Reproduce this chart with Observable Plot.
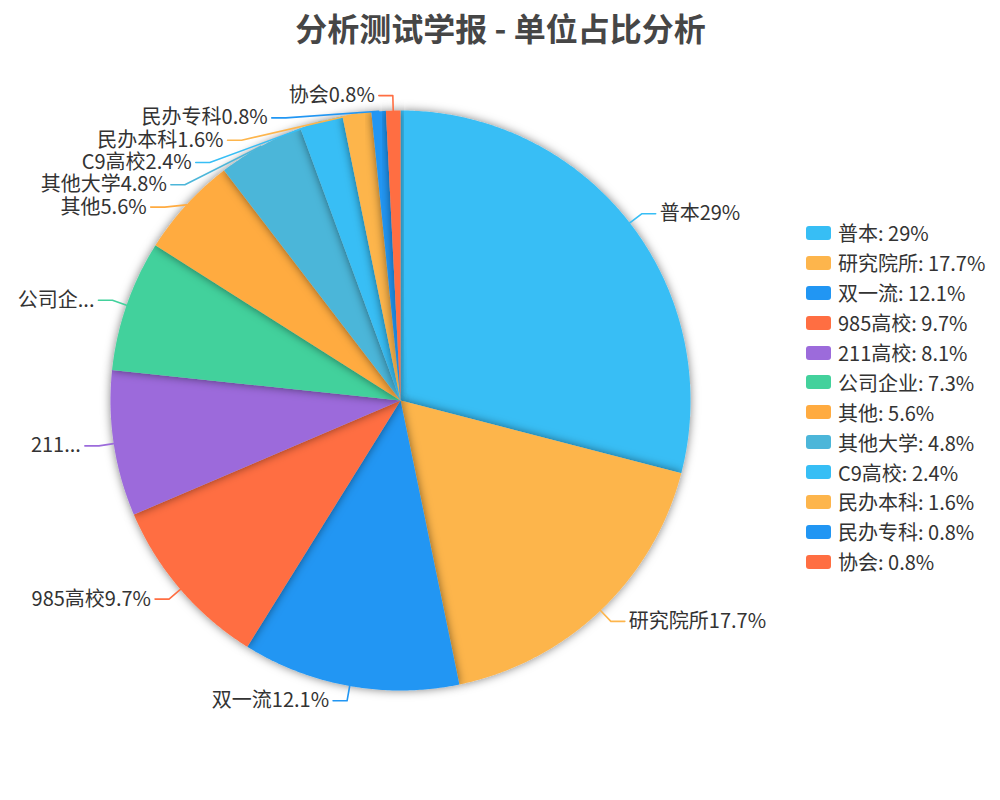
<!DOCTYPE html>
<html><head><meta charset="utf-8">
<script src="https://cdn.jsdelivr.net/npm/d3@7"></script>
<script src="https://cdn.jsdelivr.net/npm/@observablehq/plot@0.6"></script>
<style>
body{margin:0;background:#fff;font-family:"Noto Sans CJK SC","Noto Sans",sans-serif;}
#chart{position:relative;width:1000px;height:800px;}
#legend{position:absolute;left:806px;top:218px;}
.item{display:flex;align-items:center;height:29.9px;font-size:20px;color:#333;white-space:nowrap;}
.sw{width:25px;height:14px;border-radius:3px;margin-right:7px;flex:none;}
</style></head><body><div id="chart"><div id="legend"></div></div>
<script>
const title = "分析测试学报 - 单位占比分析";
const categories = ["普本","研究院所","双一流","985高校","211高校","公司企业","其他","其他大学","C9高校","民办本科","民办专科","协会"];
const percents = [29, 17.7, 12.1, 9.7, 8.1, 7.3, 5.6, 4.8, 2.4, 1.6, 0.8, 0.8];
const sliceLabels = ["普本29%","研究院所17.7%","双一流12.1%","985高校9.7%","211...","公司企...","其他5.6%","其他大学4.8%","C9高校2.4%","民办本科1.6%","民办专科0.8%","协会0.8%"];
const palette = ["#37bef5","#fdb54c","#2196f3","#ff6e42","#9c6bdb","#43d19c","#ffab40","#4cb6d9"];

const PX = 1 / 290; // one pixel in radius units
const colorOf = i => palette[i % palette.length];
const arcs = d3.pie().sort(null).value(d => d)(percents);

// slice polygons
const slices = arcs.map((a, i) => {
  const n = Math.max(2, Math.ceil((a.endAngle - a.startAngle) / (Math.PI / 360)));
  const ring = [[0, 0]];
  for (let k = 0; k <= n; ++k) {
    const t = a.startAngle + (a.endAngle - a.startAngle) * k / n;
    ring.push([Math.sin(t), -Math.cos(t)]);
  }
  ring.push([0, 0]);
  return {type: "Feature", properties: {color: colorOf(i)}, geometry: {type: "Polygon", coordinates: [ring]}};
});

// label layout
const Rel = 1 + 15 * PX, gap = 22.3 * PX, len2 = 14 * PX, pad = 4 * PX;
const labels = arcs.map((a, i) => {
  const m = (a.startAngle + a.endAngle) / 2;
  const sx = Math.sin(m), sy = -Math.cos(m);
  return {i, sx, sy, ex: Rel * sx, ey: Rel * sy, left: Rel * sx < 0};
});
for (const side of [true, false]) {
  const g = labels.filter(d => d.left === side).sort((a, b) => a.ey - b.ey);
  let prev = -Infinity;
  for (const d of g) {
    d.ly = Math.max(d.ey, prev + gap);
    prev = d.ly;
    d.lx = d.ly !== d.ey ? (side ? -1 : 1) * Math.sqrt(Math.max(0, Rel * Rel - d.ly * d.ly)) : d.ex;
    d.hx = d.lx + (side ? -len2 : len2);
    d.tx = d.hx + (side ? -pad : pad);
  }
}
const leader = labels.flatMap(d => [
  {i: d.i, x: d.sx, y: d.sy}, {i: d.i, x: d.lx, y: d.ly}, {i: d.i, x: d.hx, y: d.ly}
]);

const plot = Plot.plot({
  width: 1000, height: 800,
  margin: 0,
  projection: {type: "identity", clip: false,
    domain: {type: "MultiPoint", coordinates: [[-400 * PX, -400 * PX], [600 * PX, 400 * PX]]}},
  color: {type: "identity"},
  style: {fontFamily: '"Noto Sans CJK SC","Noto Sans",sans-serif', background: "white"},
  marks: [
    Plot.geo(slices, {fill: d => d.properties.color}),
    Plot.line(leader, {x: "x", y: "y", z: "i", stroke: d => colorOf(d.i), strokeWidth: 1.6, curve: "linear"}),
    Plot.text(labels.filter(d => d.left), {x: "tx", y: "ly", text: d => sliceLabels[d.i], textAnchor: "end", lineAnchor: "middle", fontSize: 20, fill: "#333"}),
    Plot.text(labels.filter(d => !d.left), {x: "tx", y: "ly", text: d => sliceLabels[d.i], textAnchor: "start", lineAnchor: "middle", fontSize: 20, fill: "#333"}),
    Plot.text([title], {frameAnchor: "top", dy: 30, text: d => d, lineAnchor: "middle", fontSize: 32, fontWeight: "bold", fill: "#464646"})
  ]
});
const chart = document.getElementById("chart");
chart.insertBefore(plot, chart.firstChild);

const svg = d3.select(plot);
const f = svg.insert("defs", ":first-child").append("filter").attr("id", "shadow")
  .attr("x", "-20%").attr("y", "-20%").attr("width", "140%").attr("height", "140%");
f.append("feDropShadow").attr("dx", 0).attr("dy", 0).attr("stdDeviation", 5)
  .attr("flood-color", "#000").attr("flood-opacity", 0.5);
svg.selectAll('g[aria-label="geo"] path').attr("filter", "url(#shadow)");

// legend
const items = d3.select("#legend").selectAll(".item").data(categories).join("div").attr("class", "item");
items.append("div").attr("class", "sw").style("background", (d, i) => colorOf(i));
items.append("span").text((d, i) => `${d}: ${percents[i]}%`);
</script>
</body></html>
